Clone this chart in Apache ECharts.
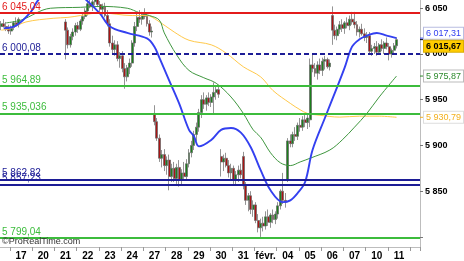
<!DOCTYPE html>
<html>
<head>
<meta charset="utf-8">
<script src="https://cdn.jsdelivr.net/npm/echarts@6/dist/echarts.min.js"></script>
<style>
  html, body { margin: 0; padding: 0; background: #fff; }
  #chart { width: 464px; height: 261px; }
</style>
</head>
<body>
<div id="chart"></div>
<script>
// hourly candles, one row of labels per trading day
const dayLabels = ["16", "17", "20", "21", "22", "23", "24", "27", "28", "29", "30", "31",
  "févr.", "04", "05", "06", "07", "10", "11"];
const hours = ["09h", "10h", "11h", "12h", "13h", "14h", "15h", "16h", "17h"];

// [open, high, low, close]
const ohlc = [
  // 16
  [6030,6036,6026,6033],[6033,6038,6029,6030],[6030,6035,6025,6027],[6027,6032,6022,6025],
  [6025,6031,6021,6029],[6029,6036,6026,6034],[6034,6040,6030,6032],[6032,6040,6029,6038],
  // 17
  [6066,6078,6062,6075],[6075,6088,6070,6085],[6085,6095,6080,6092],[6092,6100,6086,6097],
  [6097,6104,6090,6094],[6094,6106,6091,6103],[6103,6111,6098,6106],[6106,6110,6096,6100],
  [6100,6106,6095,6102],
  // 20
  [6098,6104,6088,6092],[6092,6097,6085,6090],[6090,6096,6084,6093],[6093,6099,6087,6089],
  [6089,6094,6082,6086],[6086,6092,6080,6090],[6090,6095,6083,6085],[6085,6091,6079,6088],
  [6088,6092,6076,6080],
  // 21
  [6035,6038,5994,6026],[6026,6029,6006,6010],[6010,6022,6007,6019],[6019,6028,6015,6024],
  [6024,6034,6020,6031],[6031,6035,6023,6027],[6027,6038,6025,6036],[6036,6044,6032,6041],
  [6041,6050,6038,6047],
  // 22
  [6047,6058,6042,6055],[6055,6064,6050,6052],[6052,6060,6047,6057],[6057,6066,6053,6061],
  [6061,6065,6052,6054],[6054,6058,6046,6049],[6049,6055,6043,6052],[6052,6056,6040,6042],
  [6042,6048,6030,6033],
  // 23
  [6033,6038,6008,6012],[6012,6020,6000,6005],[6005,6015,5998,6010],[6010,6014,5992,5995],
  [5995,6002,5985,5998],[5998,6003,5980,5984],[5984,5990,5962,5975],[5975,5988,5970,5985],
  [5985,5995,5978,5990],
  // 24
  [5990,6015,5986,6012],[6012,6035,6008,6030],[6030,6045,6025,6040],[6040,6048,6034,6038],
  [6038,6046,6032,6043],[6043,6050,6038,6041],[6041,6045,6030,6033],[6033,6037,6020,6024],
  [6024,6030,6018,6025],
  // 27
  [5935,5944,5922,5926],[5926,5930,5905,5908],[5908,5912,5882,5886],[5886,5895,5876,5890],
  [5890,5896,5872,5878],[5878,5888,5868,5884],[5884,5890,5851,5866],[5866,5880,5860,5875],
  [5875,5882,5860,5864],
  // 28
  [5864,5880,5858,5876],[5876,5884,5855,5862],[5862,5874,5856,5870],[5870,5882,5862,5866],
  [5866,5885,5862,5880],[5880,5896,5876,5892],[5892,5905,5887,5900],[5900,5916,5895,5912],
  [5912,5925,5905,5920],
  // 29
  [5920,5940,5915,5936],[5936,5955,5930,5950],[5950,5958,5940,5945],[5945,5955,5938,5952],
  [5952,5958,5943,5947],[5947,5956,5942,5953],[5953,5969,5935,5958],[5958,5964,5950,5961],
  [5961,5965,5952,5956],
  // 30
  [5888,5896,5866,5882],[5882,5890,5872,5886],[5886,5892,5876,5878],[5878,5884,5865,5870],
  [5870,5880,5862,5875],[5875,5878,5858,5862],[5862,5872,5856,5868],[5868,5878,5860,5873],
  [5873,5880,5864,5868],
  // 31
  [5888,5893,5852,5856],[5856,5860,5835,5840],[5840,5848,5828,5845],[5845,5850,5825,5830],
  [5830,5840,5822,5835],[5835,5838,5815,5818],[5818,5825,5805,5810],[5810,5820,5800,5815],
  [5815,5822,5806,5812],
  // 03 févr.
  [5812,5828,5808,5822],[5822,5830,5812,5816],[5816,5826,5810,5824],[5824,5830,5815,5819],
  [5819,5828,5814,5825],[5825,5838,5820,5834],[5834,5852,5830,5850],[5850,5870,5836,5840],
  [5840,5848,5832,5838],
  // 04
  [5862,5908,5860,5905],[5905,5912,5898,5902],[5902,5915,5898,5912],[5912,5920,5905,5910],
  [5910,5925,5906,5922],[5922,5930,5915,5920],[5920,5932,5916,5928],[5928,5935,5920,5925],
  [5925,5935,5918,5930],
  // 05
  [5928,5995,5920,5988],[5988,6000,5980,5984],[5984,5990,5975,5979],[5979,5992,5972,5988],
  [5988,5995,5978,5982],[5982,5996,5976,5992],[5992,5998,5983,5994],[5994,5996,5984,5986],
  [5986,5994,5982,5990],
  // 06
  [6042,6052,6010,6026],[6026,6032,6016,6020],[6020,6030,6015,6027],[6027,6036,6022,6032],
  [6032,6038,6024,6028],[6028,6036,6022,6034],[6034,6040,6028,6031],[6031,6042,6026,6038],
  [6038,6046,6032,6035],
  // 07
  [6035,6046,6028,6032],[6032,6036,6020,6024],[6024,6030,6018,6027],[6027,6033,6020,6022],
  [6022,6028,6014,6018],[6018,6024,6012,6020],[6020,6024,6000,6003],[6003,6010,5998,6006],
  [6006,6012,6000,6008],
  // 10
  [6008,6014,5998,6002],[6002,6012,5999,6010],[6010,6016,6003,6006],[6006,6014,6000,6012],
  [6012,6018,6005,6008],[6008,6012,5993,6000],[6000,6006,5996,6004],[6004,6012,6001,6009],
  [6009,6018,6006,6015.67]
];

// moving averages: [candle index, value]
const blueMA = [
  [1,6028],[6,6031],[12,6046],[15,6059],[20,6068],[28,6072],[34,6060],[40,6044],[44,6030],
  [51,6023],[59,6017],[62,6008],[64,5996],[68,5971],[72,5946],[76,5917],[78,5910],[80,5899],
  [85,5906],[89,5917],[93,5919],[97,5914],[101,5898],[105,5873],[109,5851],[114,5838],
  [117,5840],[120,5848],[123,5860],[126,5895],[131,5930],[136,5964],[139,5985],[142,6008],
  [145,6016],[148,6020],[152,6023],[156,6020],[160,6017.31]
];
const greenMA = [
  [2,6034],[8,6037],[20,6050],[32,6051],[40,6052],[51,6050],[56,6045],[60,6042],[64,6037],
  [66,6023],[71,5999],[76,5982],[82,5974],[87,5968],[93,5953],[98,5935],[102,5917],[105,5909],
  [109,5892],[113,5881],[117,5878],[121,5882],[125,5886],[133,5895],[138,5906],[143,5920],
  [148,5935],[153,5953],[160,5975.87]
];
const yellowMA = [
  [0,6026],[4,6028],[10,6035],[21,6039],[27,6040],[32,6042],[40,6045],[53,6042],[59,6042],
  [63,6037],[70,6024],[76,6015],[85,6010],[91,6001],[98,5986],[105,5975],[110,5960],
  [117,5946],[121,5939],[124,5935],[129,5933],[137,5931],[145,5932],[153,5932],[160,5930.79]
];

// horizontal levels
const levels = [6045.04, 6000.08, 5964.89, 5935.036, 5862.82, 5857.23, 5799.04];
const levelStyles = [
  { color: "#e31b1b", type: "solid" },
  { color: "#1c1c96", type: [5, 3] },
  { color: "#3cbc3c", type: "solid" },
  { color: "#3cbc3c", type: "solid" },
  { color: "#1c1c96", type: "solid" },
  { color: "#1c1c96", type: "solid" },
  { color: "#3cbc3c", type: "solid" }
];

const FONT = "Liberation Sans";

function fmt(v) {
  const s = String(v);
  const dec = s.indexOf(".") >= 0 ? s.split(".")[1].length : 0;
  const parts = Number(v).toFixed(dec).split(".");
  const int = parts[0].replace(/\B(?=(\d{3})+(?!\d))/g, " ");
  return parts[1] ? int + "," + parts[1] : int;
}

const categories = [];
const dayStart = {};
dayLabels.forEach((d, k) => {
  const hrs = k === 0 ? hours.slice(1) : hours;
  hrs.forEach((h, j) => {
    if (j === 0 && k > 0) dayStart[categories.length] = true;
    categories.push(d + " " + h);
  });
});

const candleData = ohlc.map(d => [d[0], d[3], d[2], d[1]]);

function maSeries(data, color, width) {
  return {
    type: "line",
    data,
    symbol: "none",
    smooth: 0.35,
    clip: true,
    z: 4,
    lineStyle: { color, width }
  };
}

const chart = echarts.init(document.getElementById("chart"), null, { renderer: "canvas" });
chart.setOption({
  animation: false,
  backgroundColor: "#fff",
  grid: { left: 0, right: 44, top: 0, bottom: 14 },
  xAxis: {
    type: "category",
    data: categories,
    boundaryGap: true,
    axisLine: { lineStyle: { color: "#bdbdbd", width: 1 } },
    axisTick: {
      show: true,
      length: 4,
      interval: i => (i + 5) % 9 === 0,
      lineStyle: { color: "#9a9a9a" }
    },
    axisLabel: {
      interval: i => !!dayStart[i],
      formatter: v => v.split(" ")[0],
      color: "#000",
      fontWeight: "bold",
      fontSize: 10,
      fontFamily: FONT,
      margin: 4
    },
    splitLine: { show: false }
  },
  yAxis: {
    type: "value",
    position: "right",
    min: 5789,
    max: 6059,
    scale: true,
    splitLine: { show: false },
    axisLine: { show: true, lineStyle: { color: "#bdbdbd" } },
    axisTick: { show: true, length: 3, lineStyle: { color: "#777" } },
    axisLabel: {
      showMinLabel: false,
      showMaxLabel: false,
      formatter: v => (v === 5800 ? "" : fmt(v)),
      color: "#000",
      fontWeight: "bold",
      fontSize: 9,
      fontFamily: FONT,
      margin: 5
    }
  },
  series: [
    {
      type: "candlestick",
      data: candleData,
      barWidth: 2.4,
      clip: true,
      itemStyle: {
        color: "#1b7f1b",
        color0: "#a81414",
        borderColor: "#666",
        borderColor0: "#666",
        borderWidth: 0.7
      },
      markLine: {
        silent: true,
        symbol: ["none", "none"],
        animation: false,
        data: levels.map((v, i) => ({
          yAxis: v,
          lineStyle: { color: levelStyles[i].color, width: 2, type: levelStyles[i].type },
          label: {
            show: true,
            position: "insideStartTop",
            formatter: fmt(v),
            color: levelStyles[i].color,
            fontSize: 10,
            fontFamily: FONT,
            distance: [2, 1]
          }
        }))
      }
    },
    maSeries(yellowMA, "#ffc94a", 1),
    maSeries(greenMA, "#3f973f", 1),
    maSeries(blueMA, "#3340f0", 1.9)
  ]
});

// value tags on the price scale
const tags = [
  { value: blueMA[blueMA.length - 1][1], color: "#3340f0", bg: "#fff", border: "#b8bce0", dy: -5, bold: false },
  { value: ohlc[ohlc.length - 1][3], color: "#000", bg: "#ffcc00", border: "#d9ad00", dy: 6.5, bold: true },
  { value: greenMA[greenMA.length - 1][1], color: "#2e8b2e", bg: "#fff", border: "#bbb", dy: 0, bold: false },
  { value: yellowMA[yellowMA.length - 1][1], color: "#f2b01e", bg: "#fff", border: "#ddd", dy: 0, bold: false }
];

const graphic = [];
tags.forEach(t => {
  const y = chart.convertToPixel({ yAxisIndex: 0 }, t.value);
  graphic.push({
    type: "line",
    z: 50,
    shape: { x1: 420, y1: y, x2: 423, y2: y },
    style: { stroke: t.color, lineWidth: 1 }
  });
  graphic.push({
    type: "text",
    z: 60,
    x: 424,
    y: y + t.dy,
    style: {
      text: fmt(t.value),
      fill: t.color,
      font: (t.bold ? "bold " : "") + "9px " + FONT,
      verticalAlign: "middle",
      backgroundColor: t.bg,
      borderColor: t.border,
      borderWidth: 1,
      padding: [1, 2, 1, 2]
    }
  });
});
graphic.push({
  type: "text",
  z: 60,
  x: 2,
  y: 242,
  style: {
    text: "©ProRealTime.com",
    fill: "#333",
    font: "9px " + FONT,
    verticalAlign: "middle"
  }
});
chart.setOption({ graphic });
</script>
</body>
</html>
